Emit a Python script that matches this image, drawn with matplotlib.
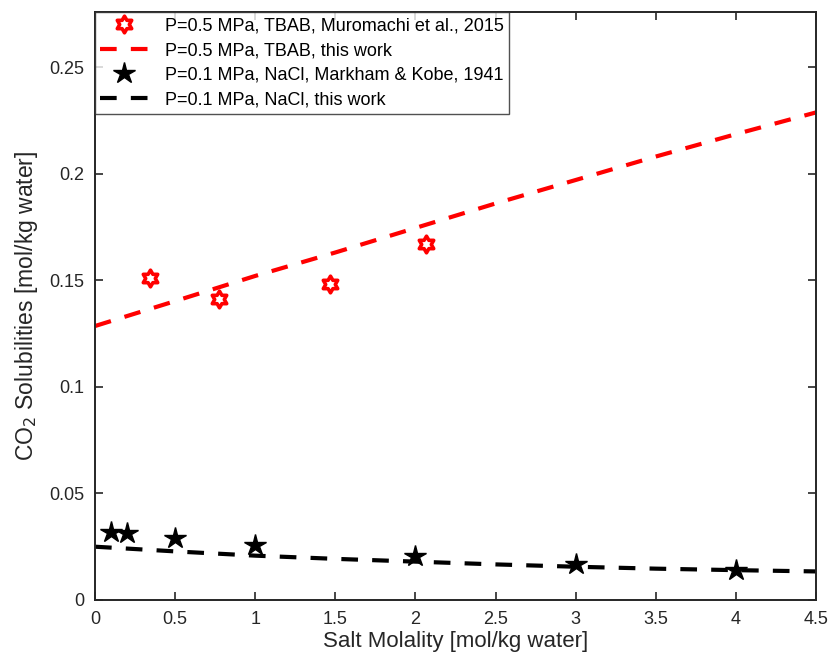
import numpy as np
import matplotlib
matplotlib.use("Agg")
import matplotlib.pyplot as plt
from matplotlib.path import Path

plt.rcParams["font.family"] = ["Liberation Sans", "DejaVu Sans"]

# TBAB, P=0.5 MPa
tbab_exp_x = [0.342, 0.776, 1.464, 2.066]
tbab_exp_y = [0.1509, 0.1411, 0.1481, 0.1672]
tbab_model_x = [0, 0.5, 1, 1.5, 2, 2.5, 3, 3.5, 4, 4.5]
tbab_model_y = [0.1285, 0.1402, 0.1520, 0.1630, 0.1745, 0.1860, 0.1970, 0.2080, 0.2185, 0.2287]

# NaCl, P=0.1 MPa
nacl_exp_x = [0.1, 0.2, 0.5, 1, 2, 3, 4]
nacl_exp_y = [0.0321, 0.0313, 0.0293, 0.0258, 0.0207, 0.0168, 0.0140]
nacl_model_x = [0, 0.5, 1, 1.5, 2, 2.5, 3, 3.5, 4, 4.5]
nacl_model_y = [0.0250, 0.0228, 0.0208, 0.0193, 0.0180, 0.0167, 0.0156, 0.0147, 0.0140, 0.0134]

xticks = [0, 0.5, 1, 1.5, 2, 2.5, 3, 3.5, 4, 4.5]
yticks = [0, 0.05, 0.1, 0.15, 0.2, 0.25]

# hexagram marker (MATLAB 'h')
ang = np.pi / 2 + np.arange(12) * np.pi / 6
rad = np.where(np.arange(12) % 2 == 0, 1.0, 1 / np.sqrt(3))
verts = np.column_stack([rad * np.cos(ang), rad * np.sin(ang)])
verts = np.vstack([verts, verts[:1]])
hexagram = Path(verts, [Path.MOVETO] + [Path.LINETO] * 11 + [Path.CLOSEPOLY])

fig = plt.figure(figsize=(8.3, 6.63), dpi=100)
ax = fig.add_axes([95 / 830, 63 / 663, 721 / 830, 588 / 663])

ax.plot(tbab_exp_x, tbab_exp_y, linestyle="none", marker=hexagram, markersize=12,
        markerfacecolor="white", markeredgecolor="red", markeredgewidth=2.6,
        label="P=0.5 MPa, TBAB, Muromachi et al., 2015")
ax.plot(tbab_model_x, tbab_model_y, color="red", lw=3, dashes=(4.0, 3.4),
        label="P=0.5 MPa, TBAB, this work")
ax.plot(nacl_exp_x, nacl_exp_y, linestyle="none", marker="*", markersize=16,
        color="black", label="P=0.1 MPa, NaCl, Markham & Kobe, 1941")
ax.plot(nacl_model_x, nacl_model_y, color="black", lw=3, dashes=(4.0, 3.4),
        label="P=0.1 MPa, NaCl, this work")

ax.set_xlim(0, 4.5)
ax.set_ylim(0, 0.2758)
ax.set_xticks(xticks)
ax.set_xticklabels(["0", "0.5", "1", "1.5", "2", "2.5", "3", "3.5", "4", "4.5"])
ax.set_yticks(yticks)
ax.set_yticklabels(["0", "0.05", "0.1", "0.15", "0.2", "0.25"])
ax.tick_params(direction="in", top=True, right=True, length=6, width=1.2,
               labelsize=13, colors="#262626", pad=8)
for s in ax.spines.values():
    s.set_linewidth(1.4)
    s.set_color("#262626")

ax.set_xlabel("Salt Molality [mol/kg water]", fontsize=16, color="#262626", labelpad=2)
ax.set_ylabel("CO$_2$ Solubilities [mol/kg water]", fontsize=16.5, color="#262626", labelpad=6)

leg = ax.legend(loc="upper left", fontsize=13, frameon=True, fancybox=False,
                borderaxespad=0, handlelength=2.65, handletextpad=0.9,
                labelspacing=0.42, borderpad=0.3)
leg.get_frame().set_edgecolor("#262626")
leg.get_frame().set_linewidth(1.0)

fig.savefig("out.png", dpi=100)
